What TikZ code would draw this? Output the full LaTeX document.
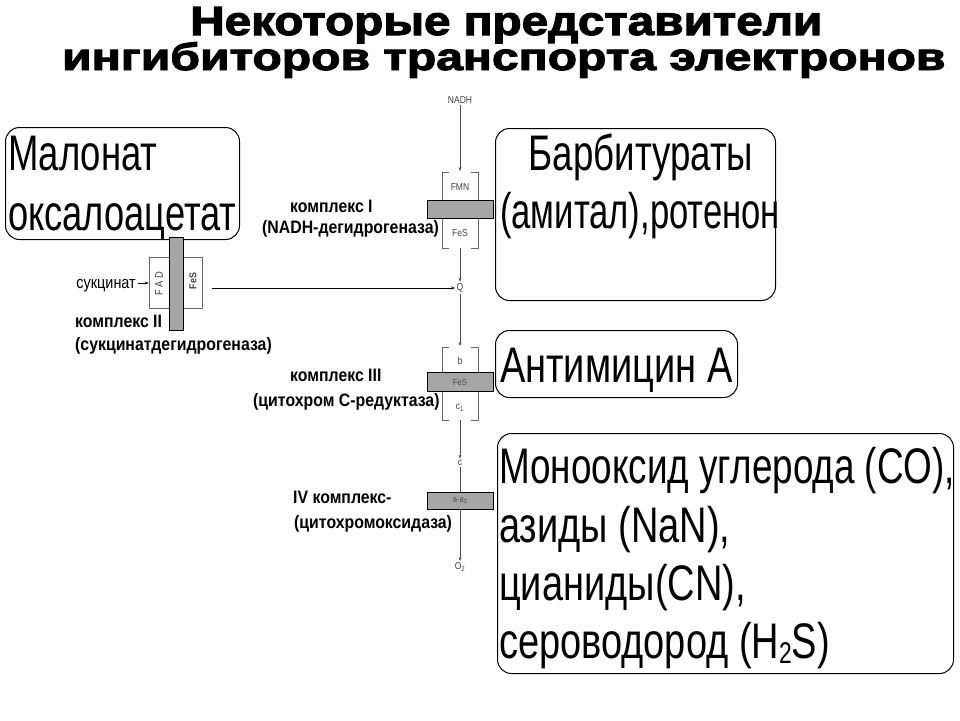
\documentclass[tikz,border=0pt]{standalone}
\usepackage{fontspec}
\setmainfont{Liberation Sans}
\newfontfamily\bigfont[FakeStretch=0.76]{Liberation Sans}
\newfontfamily\labfont[FakeStretch=0.88]{Liberation Sans Bold}
\newfontfamily\titlefont[FakeBold=2.5]{Liberation Sans Bold}
\newfontfamily\smallfont[FakeStretch=0.85]{Liberation Sans}
\usetikzlibrary{arrows.meta}
\newcommand{\subtwo}{\raisebox{-5pt}{\fontsize{30}{30}\selectfont 2}}
\begin{document}
\begin{tikzpicture}[x=1pt,y=-1pt,
  ibox/.style={draw=black, line width=1pt, rounded corners=14pt, fill=none},
  big/.style={font=\fontsize{50}{50}\selectfont\bigfont, anchor=base west, inner sep=0pt},
  lab/.style={font=\fontsize{18}{18}\selectfont\labfont, anchor=base west, inner sep=0pt},
  chainlbl/.style={font=\fontsize{10}{10}\selectfont\smallfont, text=black!75, inner sep=1.5pt},
  bar/.style={draw=black, fill=gray!70, line width=0.8pt, inner sep=0pt, font=\fontsize{9}{9}\selectfont\smallfont, text=black!70},
  chain/.style={draw=black!70, line width=0.6pt},
  arr/.style={chain, -{Stealth[length=4pt,width=3pt]}},
  brk/.style={draw=black!60, line width=0.8pt},
  tline/.style={inner sep=0pt, anchor=base west}
]
\fill[white] (0,0) rectangle (960,720);
\useasboundingbox (0,0) rectangle (960,720);

% title
\node[tline] (t1) at (190,35) {\resizebox{632pt}{28pt}{\titlefont Некоторые представители}};
\node[tline] (t2) at (62,70) {\resizebox{883pt}{28pt}{\titlefont ингибиторов транспорта электронов}};

% inhibitor boxes
\node[ibox, minimum width=234pt, minimum height=112pt, anchor=north west] (box1) at (5,127) {};
\node[big] (mal) at (8,170) {\scalebox{0.96}[1]{Малонат}};
\node[big] (oks) at (8,230) {\scalebox{0.955}[1]{оксалоацетат}};

\node[ibox, minimum width=280pt, minimum height=172pt, anchor=north west] (box2) at (495,128) {};
\node[big, anchor=base] (barb) at (641,170) {\scalebox{0.965}[1]{Барбитураты}};
\node[big] (amit) at (500,228) {\scalebox{0.91}[1]{(амитал),ротенон}};

\node[ibox, minimum width=242pt, minimum height=67pt, anchor=north west] (box3) at (495,330) {};
\node[big] (anti) at (500,382) {Антимицин А};

\node[ibox, minimum width=456pt, minimum height=240pt, anchor=north west] (box4) at (497,433) {};
\node[big] (m1) at (499,483) {\scalebox{0.97}[1]{Монооксид углерода (CO),}};
\node[big] (m2) at (499,542) {азиды (NaN),};
\node[big] (m3) at (499,600) {цианиды(CN),};
\node[big] (m4) at (499,658) {сероводород (H\subtwo S)};

% chain: complex I
\node[chainlbl] (nadh) at (460,100) {NADH};
\coordinate (c1top) at (460,171);
\coordinate (c1bot) at (460,248);
\draw[brk] (449,172) -- (442,172) -- (442,248) -- (449,248);
\draw[brk] (471,172) -- (478,172) -- (478,248) -- (471,248);
\node[chainlbl] (fmn) at (460,187) {FMN};
\node[bar, minimum width=66pt, minimum height=18pt] (bar1) at (460,209) {};
\node[chainlbl] (fes1) at (460,233) {FeS};
\draw[arr] (nadh) -- (c1top);
\node[chainlbl] (q) at (460,288) {Q};
\draw[arr] (c1bot) -- (q);

% complex III
\coordinate (c3top) at (460,346);
\coordinate (c3bot) at (460,420);
\draw[brk] (449,347) -- (442,347) -- (442,420) -- (449,420);
\draw[brk] (471,347) -- (478,347) -- (478,420) -- (471,420);
\node[chainlbl] (b) at (460,361) {b};
\node[bar, minimum width=66pt, minimum height=19pt] (bar3) at (460,382) {FeS};
\node[chainlbl] (c1) at (460,408) {c\textsubscript{1}};
\draw[arr] (q) -- (c3top);
\node[chainlbl] (cc) at (460,463) {c};
\draw[arr] (c3bot) -- (cc);

% complex IV
\node[bar, minimum width=66pt, minimum height=17pt] (bar4) at (460,501) {a-a\textsubscript{3}};
\draw[chain] (cc) -- (bar4);
\node[chainlbl] (o2) at (460,567) {O\textsubscript{2}};
\draw[arr] (bar4) -- (o2);

% complex II
\node[draw=black!60, line width=0.8pt, minimum width=53pt, minimum height=51pt, inner sep=0pt] (fadbox) at (175.5,282.5) {};
\node[draw=black, fill=gray!70, line width=0.8pt, minimum width=14pt, minimum height=93pt, inner sep=0pt] (bar2) at (176,283.5) {};
\node[chainlbl, rotate=90, font=\fontsize{11}{11}\selectfont\smallfont] (fad) at (159,284) {F A D};
\node[chainlbl, rotate=90, font=\fontsize{10}{10}\selectfont\labfont] (fes2) at (193,281) {FeS};
\node[font=\fontsize{17}{17}\selectfont\smallfont, inner sep=0pt, anchor=base east] (succ) at (136,288) {сукцинат};
\coordinate (sa) at (138,283);
\draw[arr, draw=black] (sa) -- (fadbox.west |- sa);
\coordinate (fesout) at (212,288);
\draw[arr, draw=black] (fesout) -- (q);

% complex labels
\node[lab] (k1) at (290,212) {комплекс I};
\node[lab] (k1b) at (262,233) {(NADH-дегидрогеназа)};
\node[lab] (k2) at (75,327) {комплекс II};
\node[lab] (k2b) at (75,350) {(сукцинатдегидрогеназа)};
\node[lab] (k3) at (290,381) {комплекс III};
\node[lab] (k3b) at (253,406) {(цитохром С-редуктаза)};
\node[lab] (k4) at (293,503) {IV комплекс-};
\node[lab] (k4b) at (294,528) {(цитохромоксидаза)};
\end{tikzpicture}
\end{document}
